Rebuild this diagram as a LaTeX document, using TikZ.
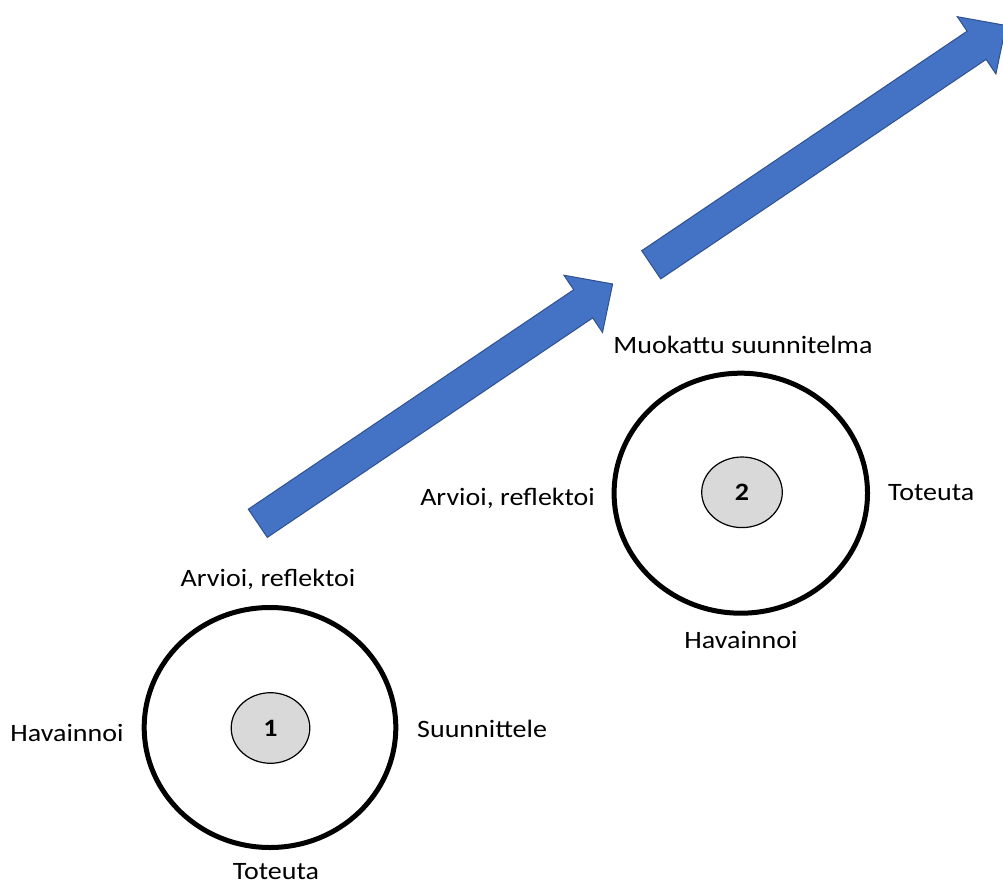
\documentclass[tikz,border=0pt]{standalone}
\usepackage{fontspec}
\setmainfont{Carlito}[FakeStretch=1.12]
\usetikzlibrary{shapes.geometric}
\definecolor{arrowblue}{HTML}{4472C4}
\definecolor{arrowedge}{HTML}{2F528F}
\definecolor{coregray}{HTML}{D9D9D9}

\begin{document}
\begin{tikzpicture}[x=1pt,y=-1pt,
  ring/.style={draw=black, line width=5pt, ellipse, inner sep=0pt},
  core/.style={draw=black, line width=1.2pt, fill=coregray, ellipse, inner sep=0pt,
    font=\fontsize{25}{25}\selectfont\bfseries},
  lbl/.style={inner sep=0pt, font=\fontsize{25}{30}\selectfont},
  bigarrow/.pic={
    \filldraw[fill=arrowblue, draw=arrowedge, line width=1pt, line join=miter]
      (0,17) -- (392.5,17) -- (392.5,34.5) -- (428,0) -- (392.5,-34.5)
      -- (392.5,-17) -- (0,-17) -- cycle;
  }
]
\useasboundingbox (0,0) rectangle (1003,885);

% progress arrows
\pic (stepA) [rotate=34] at (257.8,523.3) {bigarrow};
\pic (stepB) [rotate=34] at (651.2,264.8) {bigarrow};

% first cycle
\node[ring, minimum width=251.6pt, minimum height=240pt] (ring1) at (270,727.5) {};
\node[core, minimum width=78.6pt, minimum height=70.6pt] (core1) at (270.5,728) {1};
\node[lbl, anchor=base] (eval1) at (268,586.7) {Arvioi, reflektoi};
\node[lbl, anchor=base] (obs1) at (67,741.7) {Havainnoi};
\node[lbl, anchor=base west] (plan1) at (417,737) {Suunnittele};
\node[lbl, anchor=base] (do1) at (276,879.3) {Toteuta};

% second cycle
\node[ring, minimum width=253.4pt, minimum height=240pt] (ring2) at (740.8,493.2) {};
\node[core, minimum width=80.6pt, minimum height=70.6pt] (core2) at (742,492.3) {2};
\node[lbl, anchor=base east] (eval2) at (595,505.7) {Arvioi, reflektoi};
\node[lbl, anchor=base west] (do2) at (888,500) {Toteuta};
\node[lbl, anchor=base] (obs2) at (741,648.3) {Havainnoi};
\node[lbl, anchor=base] (plan2) at (743,353.3) {Muokattu suunnitelma};
\end{tikzpicture}
\end{document}
